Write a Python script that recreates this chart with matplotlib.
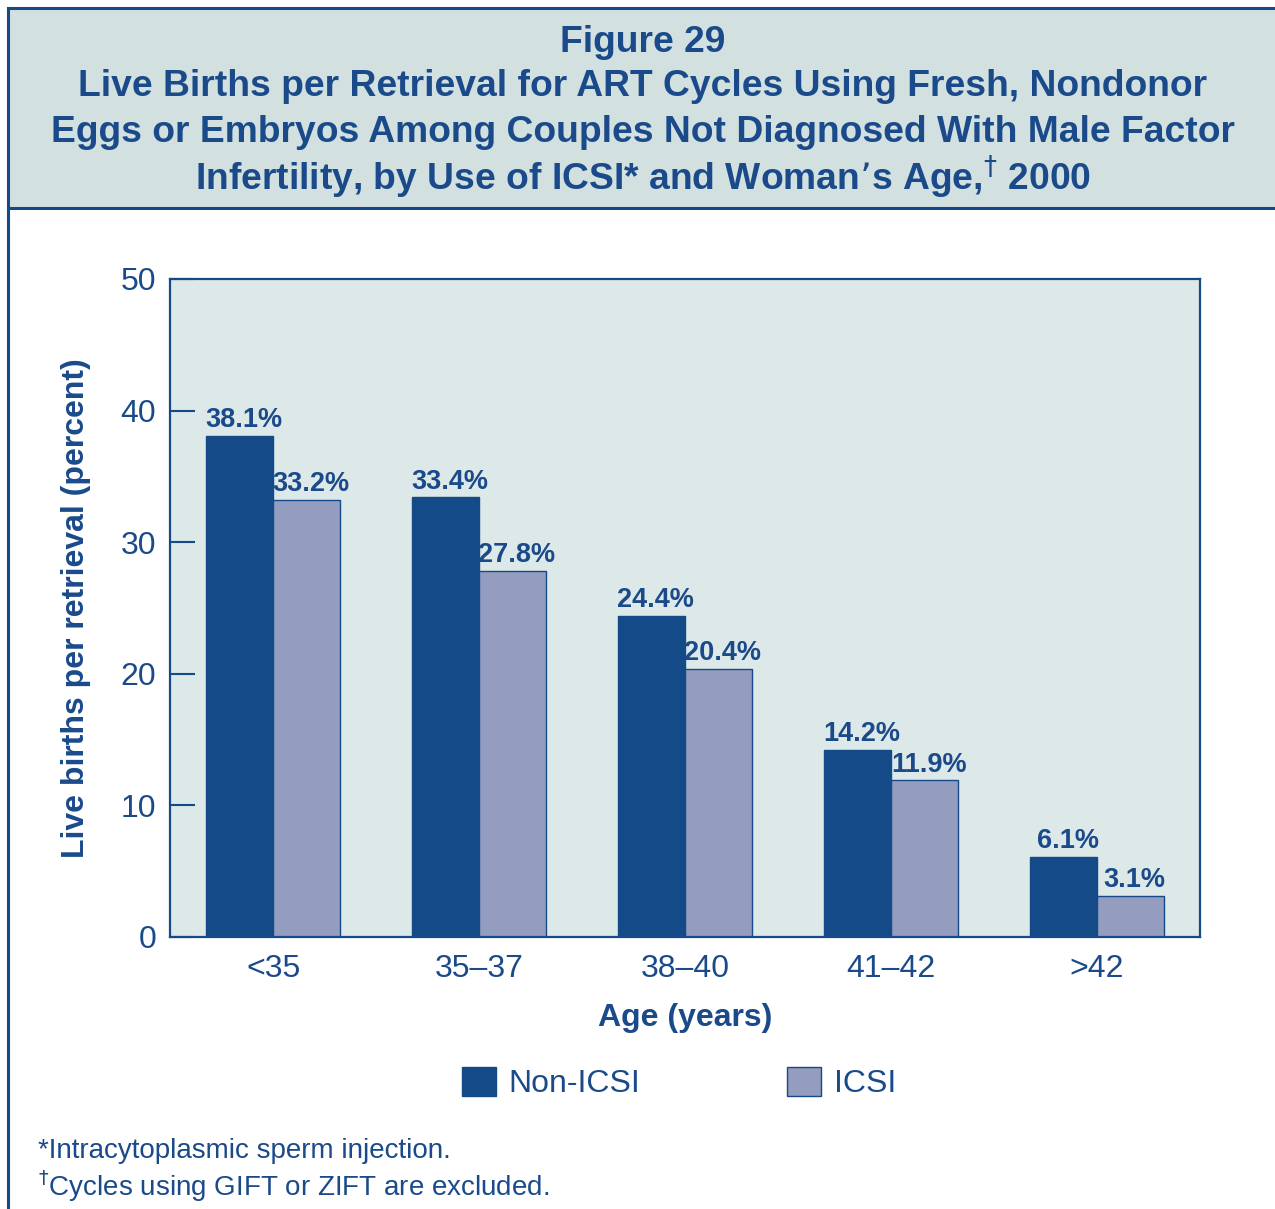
import matplotlib
matplotlib.use("Agg")
import matplotlib.pyplot as plt
import numpy as np
from matplotlib.patches import Rectangle
from matplotlib.lines import Line2D

plt.rcParams['font.family'] = ['Liberation Sans', 'DejaVu Sans']

age_groups = ["<35", "35\u201337", "38\u201340", "41\u201342", ">42"]
non_icsi = [38.1, 33.4, 24.4, 14.2, 6.1]
icsi = [33.2, 27.8, 20.4, 11.9, 3.1]
series_names = ["Non-ICSI", "ICSI"]

NAVY = "#134a87"
TEXT = "#1a4a8a"
LAVENDER = "#949dc0"
HEADER_BG = "#d3e0e0"
PLOT_BG = "#dde8e8"

W, H = 1275, 1209
fig = plt.figure(figsize=(W / 100, H / 100), dpi=100)
fig.patch.set_facecolor("white")

# Header panel
fig.patches.append(Rectangle((8 / W, 1 - 208 / H), 1.0, 200 / H, transform=fig.transFigure,
                             facecolor=HEADER_BG, edgecolor=NAVY, linewidth=2.2, zorder=0))
# Left frame line running down the page
fig.add_artist(Line2D([8 / W, 8 / W], [0, 1 - 208 / H], transform=fig.transFigure,
                      color=NAVY, linewidth=2.2))

title_lines = [
    ("Figure 29", 42),
    ("Live Births per Retrieval for ART Cycles Using Fresh, Nondonor", 87),
    ("Eggs or Embryos Among Couples Not Diagnosed With Male Factor", 132),
    ("Infertility, by Use of ICSI* and Woman\u2019s Age,$^{\\dagger}$ 2000", 177),
]
for txt, y in title_lines:
    fig.text(643 / W, 1 - y / H, txt, ha="center", va="center", fontsize=26.8,
             fontweight="bold", color=TEXT)

ax = fig.add_axes([170 / W, 1 - 937 / H, 1030 / W, 658 / H])
ax.set_facecolor(PLOT_BG)

x = np.arange(len(age_groups))
bw = 0.325
b1 = ax.bar(x - bw / 2, non_icsi, bw, color=NAVY, edgecolor=NAVY, linewidth=1, zorder=2)
b2 = ax.bar(x + bw / 2, icsi, bw, color=LAVENDER, edgecolor=NAVY, linewidth=1, zorder=2)

for bars, vals in ((b1, non_icsi), (b2, icsi)):
    for rect, v in zip(bars, vals):
        ax.annotate(f"{v}%", (rect.get_x() + rect.get_width() / 2, v),
                    xytext=(3, 2), textcoords="offset points", ha="center", va="bottom",
                    fontsize=19.5, fontweight="bold", color=TEXT)

ax.set_xlim(-0.5, 4.5)
ax.set_ylim(0, 50)
ax.set_yticks([0, 10, 20, 30, 40, 50])
ax.set_xticks(x)
ax.set_xticklabels(age_groups)
ax.tick_params(axis="y", direction="in", length=18, width=1.5, color=NAVY,
               labelsize=23, labelcolor=TEXT, pad=10)
ax.tick_params(axis="x", length=0, labelsize=23, labelcolor=TEXT, pad=12)
for s in ax.spines.values():
    s.set_color(NAVY)
    s.set_linewidth(1.6)

ax.set_xlabel("Age (years)", fontsize=23, fontweight="bold", color=TEXT, labelpad=14)
ax.set_ylabel("Live births per retrieval (percent)", fontsize=23, fontweight="bold",
              color=TEXT, labelpad=21)

# Legend
leg = fig.legend([b1, b2], series_names, loc="center", bbox_to_anchor=(679 / W, 1 - 1083 / H),
                 ncol=2, frameon=False, fontsize=23, labelcolor=TEXT, handlelength=1.05,
                 handleheight=1.05, columnspacing=4.6, handletextpad=0.4)

fig.text(38 / W, 1 - 1151 / H, "*Intracytoplasmic sperm injection.", fontsize=20,
         color=TEXT, ha="left", va="center")
fig.text(38 / W, 1 - 1186 / H, "$^{\\dagger}$Cycles using GIFT or ZIFT are excluded.",
         fontsize=20, color=TEXT, ha="left", va="center")

fig.savefig("out.png", dpi=100, facecolor=fig.get_facecolor())
